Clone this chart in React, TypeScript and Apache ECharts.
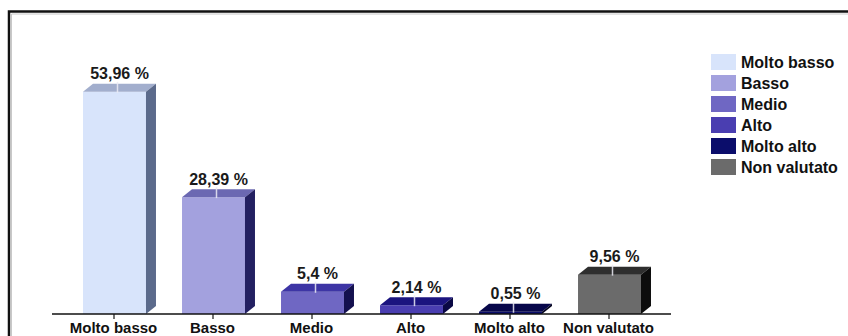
import React, { useEffect, useRef } from "react";
import * as echarts from "echarts";

const categories = ["Molto basso", "Basso", "Medio", "Alto", "Molto alto", "Non valutato"];
const values = [53.96, 28.39, 5.4, 2.14, 0.55, 9.56];
const frontColors = ["#d8e4fb", "#a3a1de", "#6f67c3", "#4a3eb1", "#0b0d6b", "#6b6b6b"];
const topColors = ["#a2aecd", "#6b68b2", "#3d35a5", "#1b147f", "#07074a", "#2e2e2e"];
const sideColors = ["#5b6a8b", "#232061", "#14114f", "#0a0844", "#03031f", "#0c0c0c"];

const FONT = 'Arial, "Liberation Sans", sans-serif';
const DX = 10;
const DY = 8;

function fmt(v: number) {
  return String(v).replace(".", ",") + " %";
}

export default function App() {
  const ref = useRef<HTMLDivElement>(null);
  useEffect(() => {
    if (!ref.current) return;
    const chart = echarts.init(ref.current, undefined, { renderer: "svg" });
    const series = categories.map((name, i) => ({
      type: "custom",
      name,
      itemStyle: { color: frontColors[i] },
      encode: { x: 0, y: 1 },
      data: [[i, values[i]]],
      renderItem: (params: any, api: any) => {
        const ci = api.value(0);
        const v = api.value(1);
        const base = api.coord([ci, 0]);
        const top = api.coord([ci, v]);
        const band = api.size([1, 0])[0];
        const w = band * 0.636;
        const cx = base[0] + 1;
        const x0 = cx - w / 2;
        const x1 = cx + w / 2;
        const y0 = base[1];
        const y1 = top[1];
        const s = params.seriesIndex;
        return {
          type: "group",
          children: [
            {
              type: "rect",
              shape: { x: x0, y: y1, width: w, height: y0 - y1 },
              style: { fill: frontColors[s] },
            },
            {
              type: "polygon",
              shape: {
                points: [
                  [x0, y1],
                  [x1, y1],
                  [x1 + DX, y1 - DY],
                  [x0 + DX, y1 - DY],
                ],
              },
              style: { fill: topColors[s] },
            },
            {
              type: "polygon",
              shape: {
                points: [
                  [x1, y1],
                  [x1 + DX, y1 - DY],
                  [x1 + DX, y0 - DY],
                  [x1, y0],
                ],
              },
              style: { fill: sideColors[s] },
            },
            {
              type: "line",
              shape: { x1: cx + 3, y1: y1 + 1, x2: cx + 3, y2: y1 - DY - 2 },
              style: { stroke: "rgba(235,235,245,0.85)", lineWidth: 1.5 },
            },
            {
              type: "text",
              x: cx + DX / 2,
              y: y1 - DY - 10,
              style: {
                text: fmt(v),
                fill: "#1a1a1a",
                font: `bold 16px ${FONT}`,
                align: "center",
                verticalAlign: "middle",
              },
            },
          ],
        };
      },
    }));

    chart.setOption({
      animation: false,
      backgroundColor: "#ffffff",
      grid: { left: 64, right: 190, top: 67, bottom: 22 },
      xAxis: {
        type: "category",
        data: categories,
        axisLine: { show: false },
        axisTick: {
          show: true,
          alignWithLabel: true,
          length: 5,
          lineStyle: { color: "#444", width: 1.5 },
        },
        axisLabel: {
          color: "#111",
          fontFamily: FONT,
          fontWeight: "bold",
          fontSize: 15,
          margin: 6,
          interval: 0,
        },
        splitLine: { show: false },
      },
      yAxis: { type: "value", min: 0, max: 60, show: false },
      legend: {
        orient: "vertical",
        left: 706,
        top: 49,
        itemWidth: 25,
        itemHeight: 16,
        itemGap: 5,
        icon: "rect",
        data: categories,
        textStyle: {
          color: "#111",
          fontFamily: FONT,
          fontWeight: "bold",
          fontSize: 16,
          lineHeight: 16,
        },
      },
      graphic: [
        {
          type: "line",
          shape: { x1: 52, y1: 314, x2: 671, y2: 314 },
          style: { stroke: "#111", lineWidth: 1.5 },
          z: 10,
        },
        {
          type: "rect",
          shape: { x: 9, y: 11.5, width: 900, height: 400 },
          style: { fill: "none", stroke: "#111", lineWidth: 2.5 },
        },
        {
          type: "rect",
          shape: { x: 11.5, y: 14, width: 900, height: 400 },
          style: { fill: "none", stroke: "#c8c8c8", lineWidth: 1 },
        },
      ],
      series,
    });
    return () => chart.dispose();
  }, []);
  return (
    <div
      ref={ref}
      style={{ position: "fixed", left: 0, top: 0, width: 848, height: 336 }}
    />
  );
}
